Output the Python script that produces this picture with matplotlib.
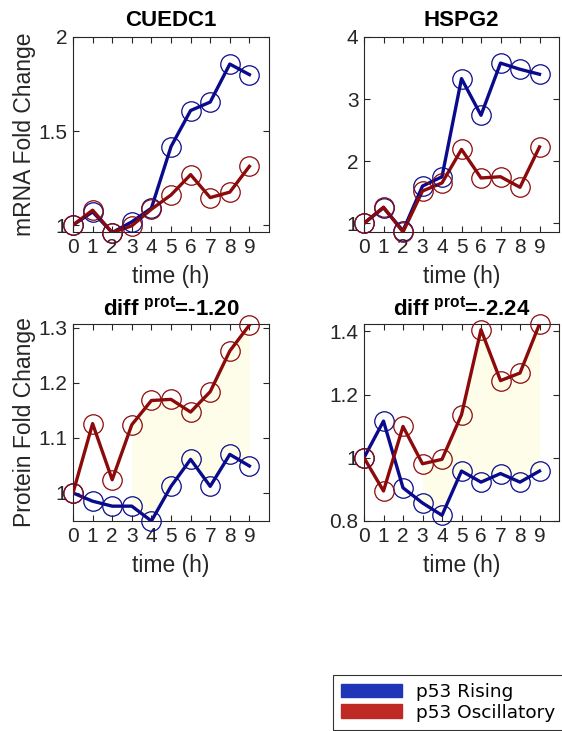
import matplotlib.pyplot as plt
from matplotlib.patches import Patch
from matplotlib.ticker import FormatStrFormatter

plt.rcParams['font.family'] = 'Liberation Sans'
plt.rcParams['mathtext.fontset'] = 'custom'
plt.rcParams['mathtext.rm'] = 'Liberation Sans'
plt.rcParams['mathtext.bf'] = 'Liberation Sans:bold'

time_h = [0, 1, 2, 3, 4, 5, 6, 7, 8, 9]

# mRNA fold change
cuedc1_rising = [1.00, 1.07, 0.96, 1.017, 1.09, 1.417, 1.609, 1.654, 1.856, 1.80]
cuedc1_osc = [1.00, 1.079, 0.96, 0.996, 1.084, 1.16, 1.268, 1.146, 1.175, 1.312]
hspg2_rising = [1.00, 1.25, 0.88, 1.60, 1.75, 3.33, 2.74, 3.58, 3.48, 3.40]
hspg2_osc = [1.00, 1.26, 0.86, 1.52, 1.65, 2.19, 1.73, 1.75, 1.58, 2.23]

# protein fold change
cuedc1_prot_rising = [1.00, 0.985, 0.976, 0.976, 0.949, 1.012, 1.061, 1.012, 1.070, 1.049]
cuedc1_prot_osc = [1.00, 1.126, 1.024, 1.124, 1.168, 1.170, 1.147, 1.184, 1.258, 1.305]
hspg2_prot_rising = [1.00, 1.116, 0.905, 0.857, 0.818, 0.958, 0.923, 0.950, 0.923, 0.958]
hspg2_prot_osc = [1.00, 0.895, 1.099, 0.981, 0.995, 1.136, 1.405, 1.244, 1.268, 1.423]

diff_prot = [-1.20, -2.24]
genes = ['CUEDC1', 'HSPG2']

blue = '#0a0a8c'
red = '#8c0a0a'
shade = '#fdfdea'
ink = '#262626'

fig = plt.figure(figsize=(5.62, 7.31), dpi=100)
W, H = 562, 731


def make_axes(x0, x1, y0, y1):
    return fig.add_axes([x0 / W, 1 - y1 / H, (x1 - x0) / W, (y1 - y0) / H])


def style(ax, ylim, yticks):
    ax.set_xlim(0, 10)
    ax.set_ylim(*ylim)
    ax.set_xticks(time_h)
    ax.set_yticks(yticks)
    ax.yaxis.set_major_formatter(FormatStrFormatter('%g'))
    ax.tick_params(direction='in', top=True, right=True, length=4,
                   labelsize=15, colors=ink, pad=4)
    for s in ax.spines.values():
        s.set_color(ink)
        s.set_linewidth(0.8)
    ax.set_xlabel('time (h)', fontsize=16.5, color=ink, labelpad=6)


def draw(ax, rising, osc, fill=False):
    if fill:
        ax.fill_between(time_h[3:], rising[3:], osc[3:], color=shade, lw=0)
    for vals, c in ((rising, blue), (osc, red)):
        ax.plot(time_h, vals, color=c, lw=2.4, zorder=3)
        ax.plot(time_h, vals, 'o', mfc='none', mec=c, ms=14, mew=0.9,
                zorder=4, clip_on=False)


ax1 = make_axes(73, 269, 37, 232)
draw(ax1, cuedc1_rising, cuedc1_osc)
style(ax1, (0.963, 2.0), [1, 1.5, 2])
ax1.set_title(genes[0], fontsize=16, fontweight='bold', pad=8)
ax1.set_ylabel('mRNA Fold Change', fontsize=16.5, color=ink, labelpad=2)

ax2 = make_axes(364, 559, 37, 232)
draw(ax2, hspg2_rising, hspg2_osc)
style(ax2, (0.86, 4.0), [1, 2, 3, 4])
ax2.set_title(genes[1], fontsize=16, fontweight='bold', pad=8)

ax3 = make_axes(73, 269, 324, 521)
draw(ax3, cuedc1_prot_rising, cuedc1_prot_osc, fill=True)
style(ax3, (0.949, 1.307), [1, 1.1, 1.2, 1.3])
ax3.set_title(r'diff $^{\mathbf{prot}}$=%.2f' % diff_prot[0],
              fontsize=16, fontweight='bold', pad=6)
ax3.set_ylabel('Protein Fold Change', fontsize=16.5, color=ink, labelpad=2)

ax4 = make_axes(364, 559, 324, 521)
draw(ax4, hspg2_prot_rising, hspg2_prot_osc, fill=True)
style(ax4, (0.8, 1.423), [0.8, 1, 1.2, 1.4])
ax4.set_title(r'diff $^{\mathbf{prot}}$=%.2f' % diff_prot[1],
              fontsize=16, fontweight='bold', pad=6)

handles = [Patch(facecolor='#1f35b8', edgecolor='#1f35b8', label='p53 Rising'),
           Patch(facecolor='#bf2a24', edgecolor='#bf2a24', label='p53 Oscillatory')]
leg = fig.legend(handles=handles, loc='lower left',
                 bbox_to_anchor=(333 / W, 1 / H), frameon=True, fancybox=False,
                 prop={'family': 'DejaVu Sans', 'size': 13.3}, handlelength=3.3,
                 handleheight=0.75, labelspacing=0.15, borderpad=0.45,
                 handletextpad=0.75, borderaxespad=0)
leg.get_frame().set_edgecolor('black')
leg.get_frame().set_linewidth(0.8)

fig.savefig('out.png', dpi=100)
